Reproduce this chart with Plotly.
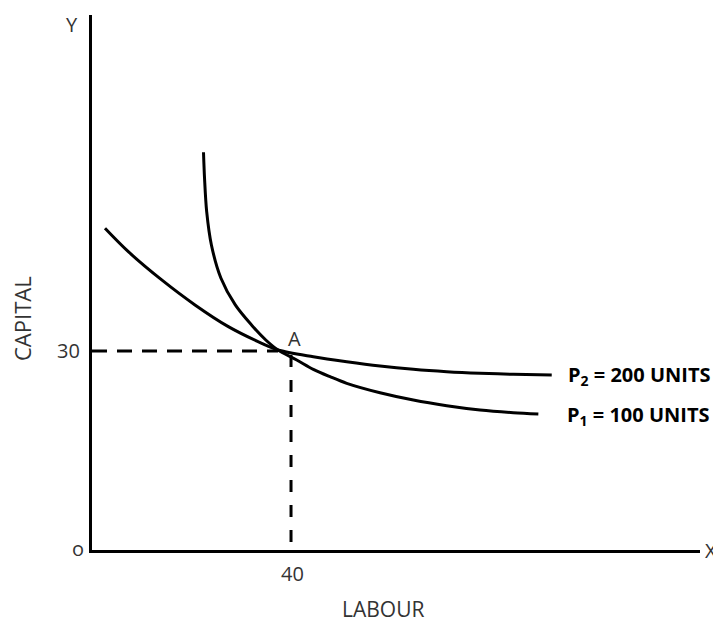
import plotly.graph_objects as go

# Isoquant P1 (100 units) – steeper curve
p1_labour = [22.41, 22.62, 23.05, 24.00, 25.90, 28.80, 32.06, 34.93, 37.39, 41.15, 44.48,
             47.84, 51.20, 57.89, 64.58, 71.30, 77.99, 84.68, 89.71]
p1_capital = [59.96, 56.04, 51.00, 45.98, 41.01, 36.94, 33.92, 31.66, 30.15, 28.64, 27.24,
              26.13, 25.13, 23.71, 22.61, 21.76, 21.11, 20.70, 20.50]

# Isoquant P2 (200 units) – flatter curve
p2_labour = [2.61, 7.30, 14.01, 20.70, 27.40, 34.11, 37.39, 44.48, 51.20, 57.89, 64.58,
             71.30, 77.99, 84.68, 92.40]
p2_capital = [48.50, 44.97, 40.71, 36.94, 33.67, 31.16, 30.15, 29.14, 28.39, 27.74, 27.24,
              26.88, 26.64, 26.49, 26.38]

point_a_labour = 37.39
point_a_capital = 30
tick_labour = 40
tick_capital = 30

curve_labels = ["P<sub>2</sub> = 200 UNITS", "P<sub>1</sub> = 100 UNITS"]

X_MAX = 122.2
Y_MAX = 80.65

FONT = "Open Sans"
GRAY = "#333333"

# page is offset by the 8px body margin
W, H = 713, 614
L, R, T, B = 84, 21, 7, 72
PLOT_LEFT_PAGE, PLOT_BOTTOM_PAGE = 92, 550
PW, PH = W - L - R, H - T - B


def page_to_paper(px, py):
    return (px - PLOT_LEFT_PAGE) / PW, (PLOT_BOTTOM_PAGE - py) / PH


fig = go.Figure()

curve_line = dict(color="black", width=3, shape="spline", smoothing=0.9)
fig.add_trace(go.Scatter(x=p1_labour, y=p1_capital, mode="lines", line=curve_line,
                         hoverinfo="skip", showlegend=False))
fig.add_trace(go.Scatter(x=p2_labour, y=p2_capital, mode="lines", line=curve_line,
                         hoverinfo="skip", showlegend=False))

# dashed guides
fig.add_trace(go.Scatter(x=[0, point_a_labour], y=[tick_capital, tick_capital], mode="lines",
                         line=dict(color="black", width=3, dash="15px,10px"),
                         hoverinfo="skip", showlegend=False))
fig.add_trace(go.Scatter(x=[tick_labour, tick_labour], y=[29.4, 0], mode="lines",
                         line=dict(color="black", width=3, dash="12px,13px"),
                         hoverinfo="skip", showlegend=False))

ann = []


def A(**kw):
    kw.setdefault("xanchor", "center")
    kw.setdefault("yanchor", "middle")
    ann.append(dict(showarrow=False, **kw))


txt = dict(family=FONT, size=20, color=GRAY)

A(text=str(tick_capital), x=0, y=tick_capital, xref="x", yref="y", xshift=-24, font=txt)
A(text=str(tick_labour), x=tick_labour, y=0, xref="x", yref="y", yshift=-23, xshift=1, font=txt)
A(text="o", x=0, y=0, xref="x", yref="y", xshift=-14, yshift=2, font=txt)
A(text="A", x=39.0, y=point_a_capital, xref="x", yref="y", xanchor="left", yshift=12, font=txt)
A(text="Y", x=0, y=1, xref="paper", yref="paper", xshift=-20, yshift=-9, font=txt)
A(text="X", x=1, y=0, xref="paper", yref="paper", xanchor="left", xshift=3, font=txt)

cx, cy = page_to_paper(22, 319)
A(text="CAPITAL", x=cx, y=cy, xref="paper", yref="paper", textangle=-90,
  font=dict(family=FONT, size=22, color=GRAY))
lx, ly = page_to_paper(383, 609)
A(text="LABOUR", x=lx, y=ly, xref="paper", yref="paper",
  font=dict(family=FONT, size=21, color=GRAY))

bold = dict(family=FONT, size=20, color="black", weight="bold")
A(text=curve_labels[0], x=p2_labour[-1], y=p2_capital[-1], xref="x", yref="y",
  xanchor="left", xshift=14, yshift=0, font=bold)
A(text=curve_labels[1], x=p1_labour[-1], y=p1_capital[-1], xref="x", yref="y",
  xanchor="left", xshift=27, yshift=-1, font=bold)

fig.update_layout(
    width=W, height=H,
    margin=dict(l=L, r=R, t=T, b=B),
    paper_bgcolor="white", plot_bgcolor="white",
    xaxis=dict(range=[0, X_MAX], showgrid=False, zeroline=False, showticklabels=False,
               ticks="", showline=True, linecolor="black", linewidth=3),
    yaxis=dict(range=[0, Y_MAX], showgrid=False, zeroline=False, showticklabels=False,
               ticks="", showline=True, linecolor="black", linewidth=3),
    annotations=ann,
)

fig.write_html("out.html")
